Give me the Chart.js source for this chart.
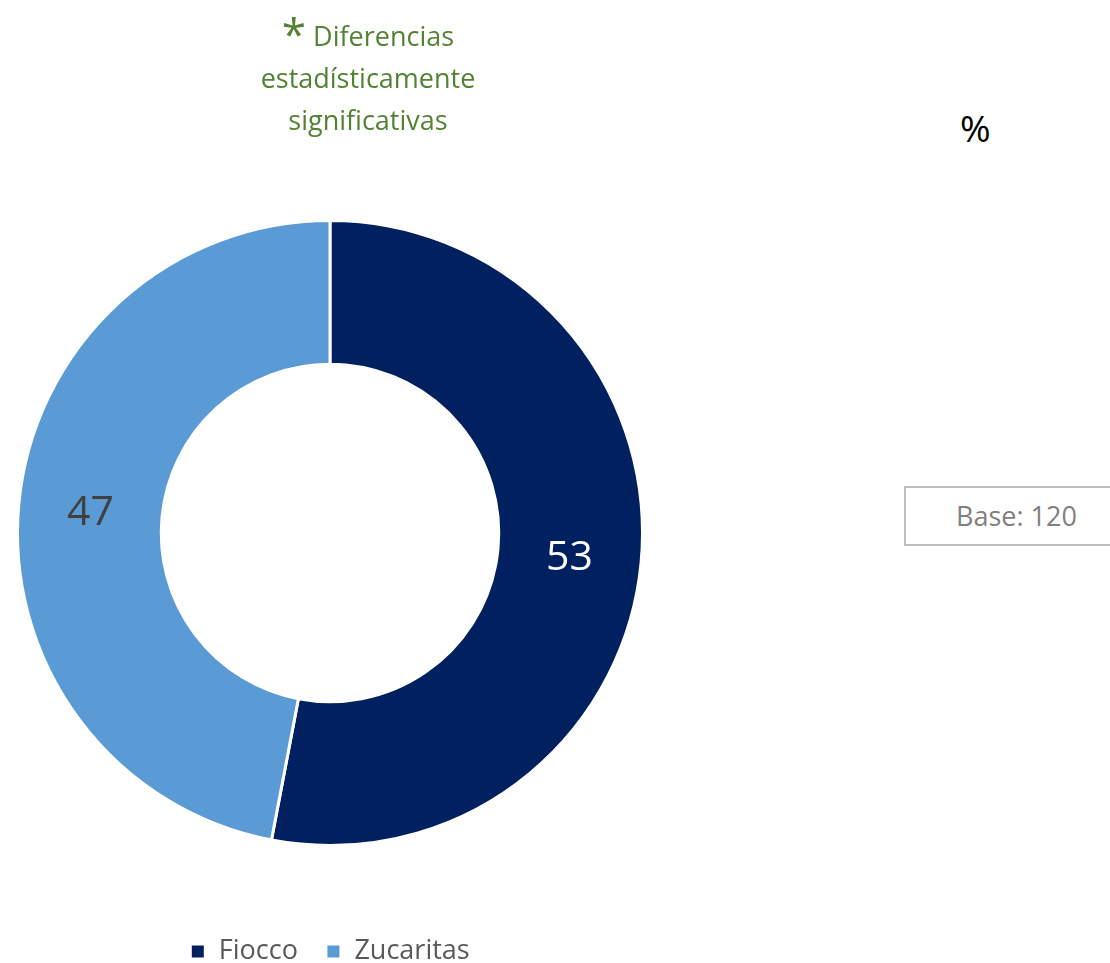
<!DOCTYPE html>
<html>
<head>
<meta charset="utf-8">
<script src="https://cdn.jsdelivr.net/npm/chart.js@4.4.1/dist/chart.umd.min.js"></script>
<style>
  body { margin: 0; background: #fff; font-family: "Open Sans", sans-serif; }
  #wrap { position: relative; width: 1110px; height: 963px; overflow: hidden; }
  #chartBox { position: absolute; left: 0; top: 0; width: 660px; height: 975px; }
  .note { position: absolute; color: #548235; font-size: 27px; text-align: center; line-height: 42px; }
  #pct { position: absolute; left: 960px; top: 102px; font-size: 37px; color: #000; }
  #base { position: absolute; left: 904px; top: 486px; width: 220px; height: 60px; border: 2px solid #bfbfbf;
          box-sizing: border-box; color: #808080; font-size: 27px; line-height: 56px; padding-left: 50px; }
</style>
</head>
<body>
<div id="wrap">
  <div id="chartBox"><canvas id="donutChart"></canvas></div>
  <div class="note" style="left:218px; top:12px; width:300px;"><span style="font-size:44px; vertical-align:-4px;">*</span> Diferencias<br>estadísticamente<br>significativas</div>
  <div id="pct">%</div>
  <div id="base">Base: 120</div>
</div>
<script>
const brands = ['Fiocco', 'Zucaritas'];
const shares = [53, 47];
const brandColors = ['#002060', '#5B9BD5'];
const labelColors = ['#ffffff', '#404040'];

const sliceLabels = {
  id: 'sliceLabels',
  afterDatasetsDraw(chart) {
    const ctx = chart.ctx;
    const meta = chart.getDatasetMeta(0);
    ctx.save();
    ctx.font = '41px "Open Sans", sans-serif';
    ctx.textAlign = 'center';
    ctx.textBaseline = 'middle';
    meta.data.forEach((arc, i) => {
      const p = arc.tooltipPosition();
      ctx.fillStyle = labelColors[i];
      ctx.fillText(shares[i], p.x, p.y + 3);
    });
    ctx.restore();
  }
};

const donutCtx = document.getElementById('donutChart').getContext('2d');
const donutChart = new Chart(donutCtx, {
  type: 'doughnut',
  data: {
    labels: brands,
    datasets: [{
      data: shares,
      backgroundColor: brandColors,
      borderColor: '#ffffff',
      borderWidth: 3
    }]
  },
  options: {
    responsive: true,
    maintainAspectRatio: false,
    animation: false,
    cutout: '54%',
    layout: {
      padding: { top: 156, left: 16, right: 16, bottom: 0 }
    },
    plugins: {
      tooltip: { enabled: false },
      legend: {
        display: true,
        position: 'bottom',
        labels: {
          color: '#595959',
          boxWidth: 15,
          boxHeight: 15,
          padding: 28,
          font: { size: 27, family: '"Open Sans", sans-serif' }
        }
      }
    }
  },
  plugins: [sliceLabels]
});
</script>
</body>
</html>
